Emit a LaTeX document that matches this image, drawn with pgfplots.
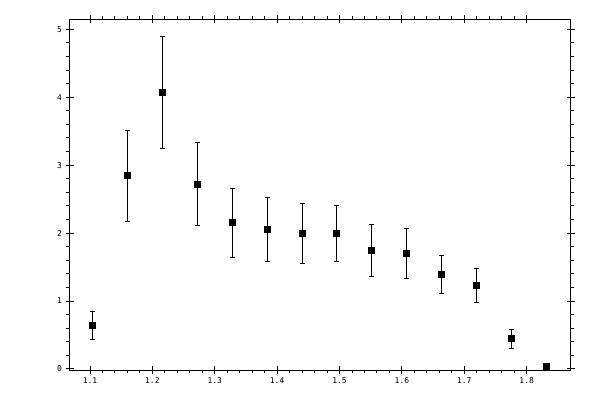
\documentclass[border=0pt]{standalone}
\usepackage{fontspec}
\setmonofont{DejaVu Sans Mono}
\usepackage{pgfplots}
\usepackage{pgfplotstable}
\pgfplotsset{compat=1.18}

\pgfplotstableread{
x       y      ep     em
1.1037  0.648  0.195  0.221
1.1598  2.851  0.662  0.677
1.2159  4.073  0.824  0.825
1.2720  2.719  0.612  0.604
1.3281  2.159  0.495  0.515
1.3842  2.056  0.465  0.471
1.4403  1.997  0.442  0.441
1.4948  1.997  0.412  0.412
1.5509  1.747  0.383  0.383
1.6071  1.703  0.362  0.368
1.6632  1.394  0.280  0.280
1.7193  1.232  0.250  0.250
1.7754  0.452  0.132  0.147
1.8315  0.034  0.000  0.000
}\datatable

\pgfplotsset{
  frame/.style={
    scale only axis,
    width=501.2pt, height=350.7pt,
    at={(69.5pt,30pt)}, anchor=south west,
    xmin=1.0671, xmax=1.8706,
    ymin=-0.015, ymax=5.147,
    xtick={1.1,1.2,...,1.8},
    ytick={0,1,2,3,4,5},
    axis line style={line width=1pt},
    every tick/.style={line width=1pt, black},
  }
}

\begin{document}
\begin{tikzpicture}
\useasboundingbox (0,0) rectangle (600pt,400pt);
% minor ticks, pointing outwards
\begin{axis}[frame,
    minor x tick num=4, minor y tick num=4,
    tick align=outside,
    major tick length=0pt, minor tick length=3.3pt,
    xticklabels={}, yticklabels={}]
\end{axis}
% major ticks, crossing the frame, and the data
\begin{axis}[frame,
    tick align=center,
    major tick length=8pt,
    /pgf/number format/assume math mode=true,
    ticklabel style={font=\ttfamily\fontsize{8}{8}\selectfont},
    xticklabel style={/pgf/number format/fixed, /pgf/number format/precision=1},
]
\addplot[
    black, only marks,
    mark=square*, mark size=3.2pt,
    error bars/.cd,
    y dir=both, y explicit,
    error bar style={line width=1pt},
    error mark options={rotate=90, mark size=2.5pt, line width=1pt},
] table[x=x, y=y, y error plus=ep, y error minus=em] {\datatable};
\end{axis}
\end{tikzpicture}
\end{document}
